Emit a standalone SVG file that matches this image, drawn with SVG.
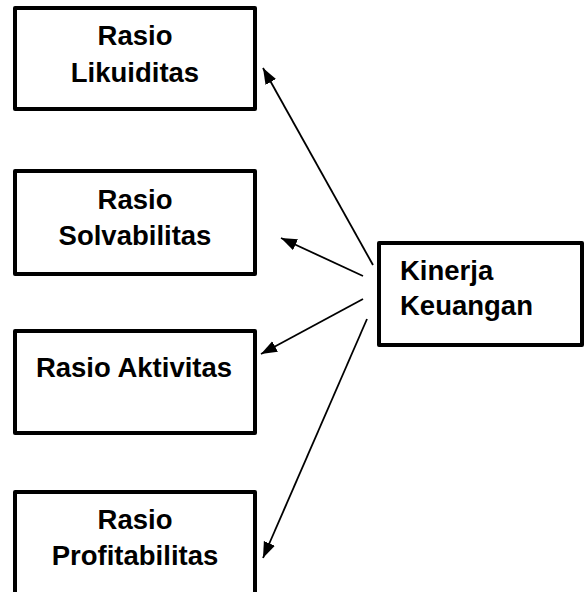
<svg xmlns="http://www.w3.org/2000/svg" width="584" height="592" viewBox="0 0 584 592">
<style>
.box{fill:#fff;stroke:#000;stroke-width:4;stroke-linejoin:round}
.t{font-family:"Liberation Sans",Arial,sans-serif;font-weight:bold;font-size:27.5px;fill:#000}
.c{text-anchor:middle}
.ln{stroke:#000;stroke-width:1.8;fill:none;marker-end:url(#ah)}
</style>
<defs>
<marker id="ah" markerUnits="userSpaceOnUse" markerWidth="17" markerHeight="13" refX="16" refY="6.5" orient="auto">
<path d="M0,0.5 L16,6.5 L0,12.5 Z" fill="#000"/>
</marker>
</defs>
<rect width="584" height="592" fill="#fff"/>
<g id="rasio-likuiditas">
<rect class="box" x="15" y="8" width="240" height="101"/>
<text class="t c" x="135" y="45">Rasio</text>
<text class="t c" x="135" y="82">Likuiditas</text>
</g>
<g id="rasio-solvabilitas">
<rect class="box" x="15" y="171" width="240" height="103"/>
<text class="t c" x="135" y="209">Rasio</text>
<text class="t c" x="135" y="245">Solvabilitas</text>
</g>
<g id="rasio-aktivitas">
<rect class="box" x="15" y="331" width="240" height="102"/>
<text class="t c" x="134" y="377">Rasio Aktivitas</text>
</g>
<g id="rasio-profitabilitas">
<rect class="box" x="15" y="492" width="240" height="110"/>
<text class="t c" x="135" y="529">Rasio</text>
<text class="t c" x="135" y="565">Profitabilitas</text>
</g>
<g id="kinerja-keuangan">
<rect class="box" x="379" y="243" width="203" height="102"/>
<text class="t" x="400" y="280">Kinerja</text>
<text class="t" x="400" y="315">Keuangan</text>
</g>
<g id="connectors">
<line class="ln" x1="373" y1="265" x2="263" y2="68"/>
<line class="ln" x1="363" y1="276" x2="281" y2="238"/>
<line class="ln" x1="363" y1="299" x2="261" y2="354"/>
<line class="ln" x1="367" y1="319" x2="263" y2="558"/>
</g>
</svg>
